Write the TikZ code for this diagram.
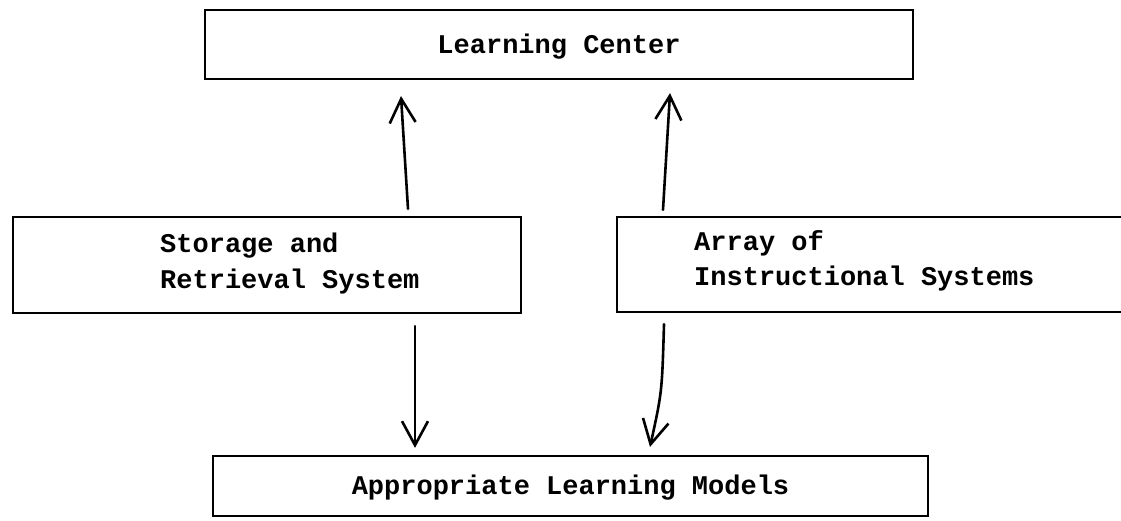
\documentclass[tikz,border=0pt]{standalone}
\usepackage{fontspec}
\newfontfamily\tw{Liberation Mono}
\usetikzlibrary{arrows.meta}
\begin{document}
\begin{tikzpicture}[x=1pt,y=-1pt,
  box/.style={draw=black,line width=2.2pt,rectangle,inner sep=0pt},
  openbox/.style={rectangle,inner sep=0pt},
  txt/.style={font=\tw\bfseries\fontsize{27}{36}\selectfont,inner sep=0pt},
  conn/.style={line width=2.6pt,line cap=round,-{Straight Barb[length=24pt,width=26pt,line width=2.6pt]}}]
\useasboundingbox[fill=white] (0,0) rectangle (1121,520);
% boxes
\node[box,minimum width=708pt,minimum height=69pt] (lc) at (559,44.5) {};
\node[box,minimum width=508pt,minimum height=96pt] (stor) at (267,265) {};
\node[openbox,minimum width=504pt,minimum height=95pt] (arr) at (869,264.5) {};
\draw[line width=2.2pt] (arr.north east) -- (arr.north west) -- (arr.south west) -- (arr.south east);
\node[box,minimum width=715pt,minimum height=60pt] (apm) at (570.5,486) {};
% texts
\node[txt,anchor=base] (lct) at (559,53) {Learning Center};
\node[txt,anchor=base west] (st1) at (160,252) {Storage and};
\node[txt,anchor=base west] (st2) at (160,288) {Retrieval System};
\node[txt,anchor=base west] (ar1) at (694,250) {Array of};
\node[txt,anchor=base west] (ar2) at (694,285) {Instructional Systems};
\node[txt,anchor=base] (apt) at (570.5,494) {Appropriate Learning Models};
% connectors
\draw[conn] ([xshift=141pt,yshift=7pt]stor.north) -- ([xshift=-158pt,yshift=-16pt]lc.south);
\draw[conn] ([xshift=-206pt,yshift=7pt]arr.north) -- ([xshift=111pt,yshift=-13pt]lc.south);
\draw[conn] ([xshift=148pt,yshift=-12pt]stor.south) -- ([xshift=-155.5pt,yshift=7pt]apm.north);
\draw[conn] ([xshift=-205pt,yshift=-12pt]arr.south) .. controls ([xshift=-207pt,yshift=-80pt]arr.south) .. ([xshift=79.5pt,yshift=8pt]apm.north);
\end{tikzpicture}
\end{document}
